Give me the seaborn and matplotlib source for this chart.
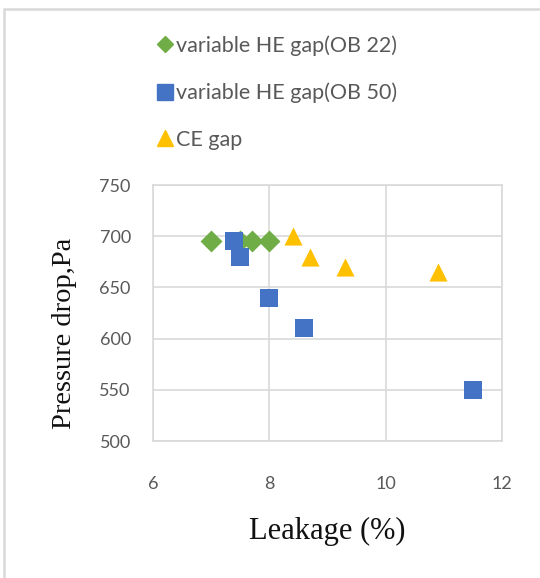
import matplotlib
matplotlib.use("Agg")
import matplotlib.pyplot as plt
from matplotlib.patches import Rectangle
import seaborn as sns
import pandas as pd

# Leakage (%) and pressure drop (Pa) for each gap configuration
ob22_leakage = [7.0, 7.5, 7.7, 8.0]
ob22_pressure = [695, 695, 695, 695]

ob50_leakage = [7.4, 7.5, 8.0, 8.6, 11.5]
ob50_pressure = [695, 680, 640, 610, 550]

ce_leakage = [8.4, 8.7, 9.3, 10.9]
ce_pressure = [700, 680, 670, 665]

series_names = ["variable HE gap(OB 22)", "variable HE gap(OB 50)", "CE gap"]
x_ticks = [6, 8, 10, 12]
y_ticks = [500, 550, 600, 650, 700, 750]

sns.set_style("white")
plt.rcParams["font.family"] = ["Lato", "DejaVu Sans"]

frames = [
    pd.DataFrame({"leakage": ob22_leakage, "pressure": ob22_pressure, "series": series_names[0]}),
    pd.DataFrame({"leakage": ob50_leakage, "pressure": ob50_pressure, "series": series_names[1]}),
    pd.DataFrame({"leakage": ce_leakage, "pressure": ce_pressure, "series": series_names[2]}),
]
styles = [
    dict(marker="D", color="#70AD47", s=125),
    dict(marker="s", color="#4472C4", s=175),
    dict(marker="^", color="#FFC000", s=170),
]

fig = plt.figure(figsize=(5.4, 5.78), dpi=100)
ax = fig.add_axes([153 / 540, 1 - 441 / 578, 349 / 540, 256 / 578])

for df, st in zip(frames, styles):
    sns.scatterplot(data=df, x="leakage", y="pressure", ax=ax, marker=st["marker"],
                    color=st["color"], s=st["s"], linewidth=0, label=df["series"].iloc[0],
                    legend=False, zorder=3)

ax.set_xlim(6, 12)
ax.set_ylim(500, 750)
ax.set_xticks(x_ticks)
ax.set_yticks(y_ticks)
ax.grid(True, color="#d9d9d9", linewidth=1.2, zorder=0)
ax.set_axisbelow(True)
for sp in ax.spines.values():
    sp.set_color("#d9d9d9")
    sp.set_linewidth(1.2)
ax.tick_params(axis="both", length=0, labelsize=13, labelcolor="#595959")
ax.tick_params(axis="y", pad=16)
ax.tick_params(axis="x", pad=25)

serif = ["Liberation Serif", "DejaVu Serif"]
ax.set_xlabel("Leakage (%)", fontsize=22, family=serif, color="#111111", va="center")
ax.xaxis.set_label_coords(0.5, -0.355)
ax.set_ylabel("Pressure drop,Pa", fontsize=20.5, family=serif, color="#111111", va="center")
ax.yaxis.set_label_coords(-0.255, 0.42)

handles = [
    plt.Line2D([], [], linestyle="none", marker="D", color="#70AD47", markersize=8),
    plt.Line2D([], [], linestyle="none", marker="s", color="#4472C4", markersize=11),
    plt.Line2D([], [], linestyle="none", marker="^", color="#FFC000", markersize=12),
]
fig.legend(handles, series_names, loc="upper left", bbox_to_anchor=(156 / 540, 1 - 35 / 578),
           frameon=False, fontsize=15.5, labelcolor="#595959", handlelength=0.8,
           handletextpad=0.15, labelspacing=1.25, borderaxespad=0, borderpad=0)

# outer chart frame
fig.patches.append(Rectangle((3.5 / 540, -0.05), 1.1, 1 - 9 / 578 + 0.05,
                             transform=fig.transFigure, fill=False,
                             edgecolor="#d9d9d9", linewidth=1.8))

fig.savefig("out.png", dpi=100)
